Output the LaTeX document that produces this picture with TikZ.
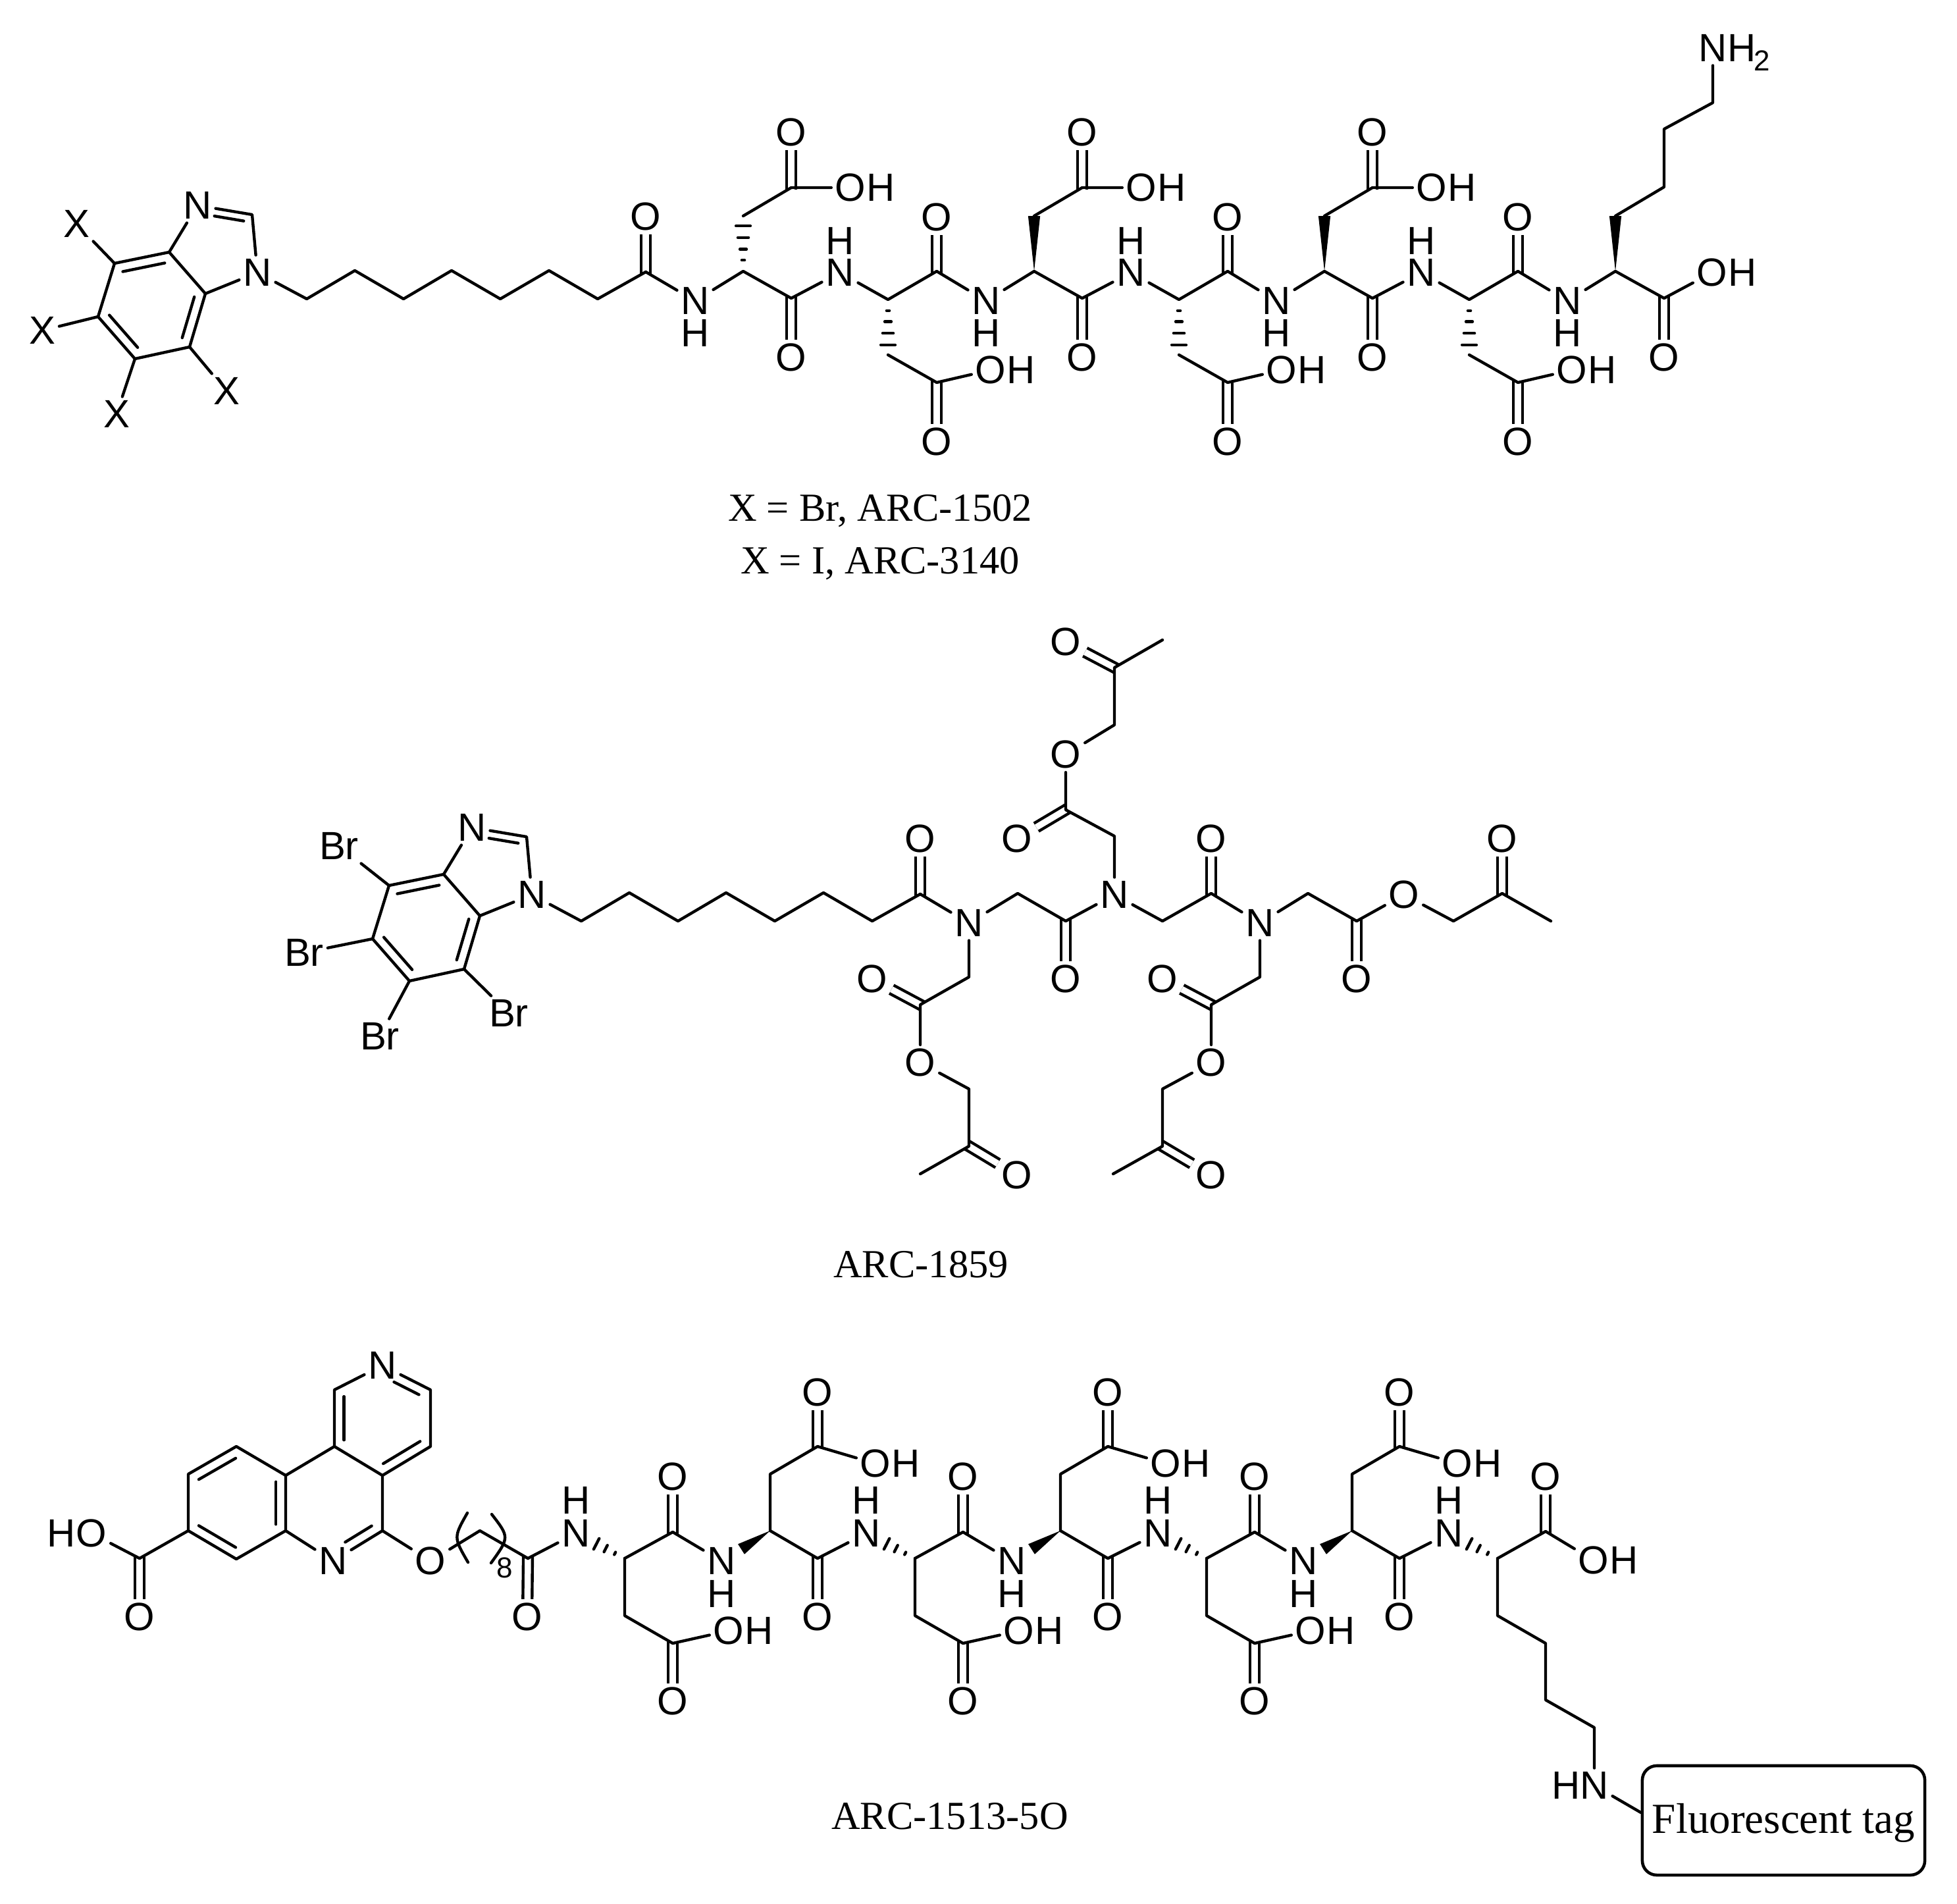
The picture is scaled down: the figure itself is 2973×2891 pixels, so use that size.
\documentclass[tikz,border=0pt]{standalone}
\usepackage{fontspec}
\setmainfont{Liberation Serif}
\newfontfamily\atomfont{Liberation Sans}
\usetikzlibrary{calc}

\tikzset{
    bond/.style={line width=1.25pt,line cap=round,line join=round},
    dbond/.style={line width=1.25pt,double,double distance=2.7pt,shorten <=-0.8pt},
    atom/.style={font=\atomfont\fontsize{17}{20}\selectfont,inner sep=0pt,outer sep=1.7pt},
    subatom/.style={font=\atomfont\fontsize{12.5}{14}\selectfont,inner sep=0pt},
    capt/.style={font=\fontsize{17.2}{20}\selectfont,inner sep=0pt}
}

\newcommand{\innerbond}[5]{\draw[bond] ($(#1)!#4!(#2)!.2!(#3)$) -- ($(#2)!#5!(#1)!.2!(#3)$);}
\newcommand{\wedgebond}[2]{\fill (#1) -- ($(#2)!2.6pt!90:(#1)$) -- ($(#2)!2.6pt!-90:(#1)$) -- cycle;}
\newcommand{\hashbond}[2]{\foreach \pos/\hw in {.2/.6,.4/1.4,.61/2.3,.82/3.1}
    {\draw[bond] ($(#1)!\pos!(#2)!\hw pt!90:(#2)$) -- ($(#1)!\pos!(#2)!\hw pt!-90:(#2)$);}}
\newcommand{\hashshort}[2]{\foreach \pos/\hw in {.2/.6,.39/1.6,.58/2.6}
    {\draw[bond] ($(#1)!\pos!(#2)!\hw pt!90:(#2)$) -- ($(#1)!\pos!(#2)!\hw pt!-90:(#2)$);}}

\begin{document}
\begin{tikzpicture}[x=0.01cm,y=-0.01cm]
    \useasboundingbox (0,0) rectangle (2973,2891);

    % head group and linker of the first two
    \foreach \m/\sx/\sy/\lab/\xa/\xb/\xc/\xd in {p/0/0/X/116/64/177/344,q/417/945/Br/98/45/160/356}{
        \begin{scope}[shift={(\sx,\sy)}]
            \coordinate (\m-a) at (174,400);
            \coordinate (\m-b) at (257,383);
            \coordinate (\m-c) at (312,446);
            \coordinate (\m-d) at (288,527);
            \coordinate (\m-e) at (205,545);
            \coordinate (\m-f) at (149,481);
            \coordinate (\m-u) at (230,464);
            \coordinate (\m-v) at (329,376);
            \coordinate (\m-g) at (383,326);
            \node[atom] (\m-n3) at (300,312) {N};
            \node[atom] (\m-n1) at (391,414) {N};
            \node[atom] (\m-x1) at (\xa,340) {\lab};
            \node[atom] (\m-x2) at (\xb,502) {\lab};
            \node[atom] (\m-x3) at (\xc,629) {\lab};
            \node[atom] (\m-x4) at (\xd,594) {\lab};
            \foreach \i/\px/\py in {1/466/454,2/539/411,3/613/454,4/686/411,5/760/454,6/834/411,7/908/454,8/981/413}
                \coordinate (\m-z\i) at (\px,\py);
            \node[atom] (\m-o) at (981,329) {O};

            \draw[bond] (\m-a) -- (\m-b) -- (\m-c) -- (\m-d) -- (\m-e) -- (\m-f) -- cycle;
            \draw[bond] (\m-b) -- (\m-n3) -- (\m-g) -- (\m-n1) -- (\m-c);
            \innerbond{\m-a}{\m-b}{\m-u}{.02}{.02}
            \innerbond{\m-c}{\m-d}{\m-u}{.02}{.02}
            \innerbond{\m-e}{\m-f}{\m-u}{.02}{.02}
            \innerbond{\m-n3}{\m-g}{\m-v}{.3}{.03}
            \draw[bond] (\m-a) -- (\m-x1);
            \draw[bond] (\m-f) -- (\m-x2);
            \draw[bond] (\m-e) -- (\m-x3);
            \draw[bond] (\m-d) -- (\m-x4);
            \draw[dbond] (\m-z8) -- (\m-o);
            \draw[bond] (\m-n1) -- (\m-z1) -- (\m-z2) -- (\m-z3) -- (\m-z4) -- (\m-z5) -- (\m-z6) -- (\m-z7) -- (\m-z8);
        \end{scope}
    }

    % ARC-1502
    \foreach \res/\px in {1/1129,2/1571,3/2012,4/2454}{
        \node[atom] (nl\res) at (\px-73,457) {N};
        \node[atom] (hl\res) at (\px-73,506) {H};
    }
    \draw[bond] (p-z8) -- (nl1);
    \foreach \res/\px/\kind [evaluate=\res as \nxt using int(\res+1)] in {1/1129/\hashbond,2/1571/\wedgebond,3/2012/\wedgebond}{
        \coordinate (ca\res) at (\px,412);
        \coordinate (cb\res) at (\px,328);
        \coordinate (cg\res) at (\px+73,285);
        \coordinate (co\res) at (\px+73,453);
        \coordinate (cl\res) at (\px+220,455);
        \coordinate (cm\res) at (\px+220,539);
        \coordinate (cn\res) at (\px+294,581);
        \coordinate (cp\res) at (\px+294,412);
        \node[atom] (ot\res) at (\px+73,201) {O};
        \node[atom] (oh\res) at (\px+163,285) {O};
        \node[atom] (hh\res) at (\px+209,285) {H};
        \node[atom] (ob\res) at (\px+73,543) {O};
        \node[atom] (nu\res) at (\px+147,414) {N};
        \node[atom] (hu\res) at (\px+147,366) {H};
        \node[atom] (ol\res) at (\px+294,671) {O};
        \node[atom] (om\res) at (\px+376,562) {O};
        \node[atom] (hm\res) at (\px+422,562) {H};
        \node[atom] (oc\res) at (\px+294,330) {O};

        \draw[dbond] (cg\res) -- (ot\res);
        \draw[dbond] (co\res) -- (ob\res);
        \draw[dbond] (cn\res) -- (ol\res);
        \draw[dbond] (cp\res) -- (oc\res);
        \draw[bond] (nl\res) -- (ca\res) -- (co\res) -- (nu\res) -- (cl\res) -- (cp\res) -- (nl\nxt);
        \draw[bond] (cb\res) -- (cg\res) -- (oh\res);
        \draw[bond] (cm\res) -- (cn\res) -- (om\res);
        \kind{ca\res}{cb\res}
        \hashbond{cl\res}{cm\res}
    }
    \coordinate (ca4) at (2454,412);
    \coordinate (cb4) at (2454,328);
    \coordinate (lys1) at (2528,284);
    \coordinate (lys2) at (2528,196);
    \coordinate (lys3) at (2602,156);
    \coordinate (co4) at (2528,453);
    \node[atom] (nh2) at (2602,73) {N};
    \node[atom] (nh2h) at (2646,73) {H};
    \node[subatom] (nh2s) at (2677,92) {2};
    \node[atom] (ob4) at (2528,543) {O};
    \node[atom] (oh4) at (2601,414) {O};
    \node[atom] (hh4) at (2647,414) {H};
    \draw[dbond] (co4) -- (ob4);
    \draw[bond] (nl4) -- (ca4) -- (co4) -- (oh4);
    \draw[bond] (cb4) -- (lys1) -- (lys2) -- (lys3) -- (nh2);
    \wedgebond{ca4}{cb4}

    \node[capt] (cap1) at (1337,776) {X = Br, ARC-1502};
    \node[capt] (cap2) at (1337,856) {X = I, ARC-3140};

    % ARC-1859
    \coordinate (t1) at (1546,1357);
    \coordinate (t2) at (1619,1399);
    \coordinate (t3) at (1766,1399);
    \coordinate (t4) at (1840,1357);
    \coordinate (t5) at (1987,1357);
    \coordinate (t6) at (2061,1399);
    \coordinate (t7) at (2208,1399);
    \coordinate (t8) at (2282,1357);
    \coordinate (t9) at (2356,1399);
    \node[atom] (na) at (1472,1402) {N};
    \node[atom] (nb) at (1693,1359) {N};
    \node[atom] (nc) at (1914,1402) {N};
    \node[atom] (o2) at (1619,1487) {O};
    \node[atom] (o4) at (1840,1274) {O};
    \node[atom] (o6) at (2061,1487) {O};
    \node[atom] (o7) at (2133,1359) {O};
    \node[atom] (o8) at (2282,1274) {O};
    \draw[dbond] (t2) -- (o2);
    \draw[dbond] (t4) -- (o4);
    \draw[dbond] (t6) -- (o6);
    \draw[dbond] (t8) -- (o8);
    \draw[bond] (q-z8) -- (na) -- (t1) -- (t2) -- (nb) -- (t3) -- (t4) -- (nc) -- (t5) -- (t6) -- (o7) -- (t7) -- (t8) -- (t9);

    \coordinate (ua1) at (1693,1270);
    \coordinate (ua2) at (1619,1230);
    \coordinate (ua3) at (1693,1101);
    \coordinate (ua4) at (1693,1014);
    \coordinate (ua5) at (1766,972);
    \node[atom] (uo1) at (1545,1274) {O};
    \node[atom] (uo2) at (1619,1146) {O};
    \node[atom] (uo3) at (1619,975) {O};
    \draw[dbond] (ua2) -- (uo1);
    \draw[dbond] (ua4) -- (uo3);
    \draw[bond] (nb) -- (ua1) -- (ua2) -- (uo2) -- (ua3) -- (ua4) -- (ua5);

    \coordinate (la1) at (1472,1484);
    \coordinate (la2) at (1398,1526);
    \coordinate (la3) at (1472,1654);
    \coordinate (la4) at (1472,1741);
    \coordinate (la5) at (1398,1783);
    \node[atom] (lo1) at (1325,1487) {O};
    \node[atom] (lo2) at (1398,1614) {O};
    \node[atom] (lo3) at (1545,1785) {O};
    \draw[dbond] (la2) -- (lo1);
    \draw[dbond] (la4) -- (lo3);
    \draw[bond] (na) -- (la1) -- (la2) -- (lo2) -- (la3) -- (la4) -- (la5);

    \coordinate (lc1) at (1914,1484);
    \coordinate (lc2) at (1840,1526);
    \coordinate (lc3) at (1766,1654);
    \coordinate (lc4) at (1766,1741);
    \coordinate (lc5) at (1691,1783);
    \node[atom] (mo1) at (1766,1487) {O};
    \node[atom] (mo2) at (1840,1614) {O};
    \node[atom] (mo3) at (1840,1785) {O};
    \draw[dbond] (lc2) -- (mo1);
    \draw[dbond] (lc4) -- (mo3);
    \draw[bond] (nc) -- (lc1) -- (lc2) -- (mo2) -- (lc3) -- (lc4) -- (lc5);

    \node[capt] (cap3) at (1399,1921) {ARC-1859};

    % ARC-1513-5O
    \coordinate (r1) at (508,2111);
    \coordinate (r3) at (654,2111);
    \coordinate (r4) at (654,2197);
    \coordinate (r5) at (581,2241);
    \coordinate (r6) at (508,2197);
    \coordinate (m3) at (434,2241);
    \coordinate (m4) at (434,2325);
    \coordinate (m6) at (581,2325);
    \coordinate (l2) at (359,2197);
    \coordinate (l3) at (286,2239);
    \coordinate (l4) at (286,2325);
    \coordinate (l5) at (359,2368);
    \coordinate (cr) at (581,2155);
    \coordinate (cm) at (508,2283);
    \coordinate (cl) at (360,2283);
    \coordinate (ac) at (212,2367);
    \coordinate (ch1) at (729,2325);
    \coordinate (ch2) at (802,2367);
    \node[atom] (nr) at (581,2074) {N};
    \node[atom] (nm) at (506,2371) {N};
    \node[atom] (oe) at (654,2371) {O};
    \node[atom] (oa) at (212,2456) {O};
    \node[atom] (hoo) at (139,2329) {O};
    \node[atom] (hoh) at (93,2329) {H};
    \node[atom] (ol) at (801,2456) {O};
    \node[subatom] (sub8) at (767,2381) {8};

    \draw[bond] (r6) -- (r1) -- (nr) -- (r3) -- (r4) -- (r5) -- (r6);
    \draw[bond] (r6) -- (m3) -- (m4) -- (nm) -- (m6) -- (r5);
    \draw[bond] (m3) -- (l2) -- (l3) -- (l4) -- (l5) -- (m4);
    \innerbond{r1}{r6}{cr}{.02}{.02}
    \innerbond{nr}{r3}{cr}{.3}{.05}
    \innerbond{r4}{r5}{cr}{.02}{.02}
    \innerbond{nm}{m6}{cm}{.3}{.03}
    \innerbond{l2}{l3}{cl}{.02}{.02}
    \innerbond{m3}{m4}{cl}{.02}{.02}
    \innerbond{l4}{l5}{cl}{.02}{.02}
    \draw[dbond] (ac) -- (oa);
    \draw[bond] (l4) -- (ac) -- (hoo);
    \draw[dbond] (ch2) -- (ol);
    \draw[bond] (m6) -- (oe) -- (ch1) -- (ch2);
    \draw[bond] (710,2298) .. controls (689,2335) .. (711,2373);
    \draw[bond] (747,2300) .. controls (774,2335) .. (746,2374);

    \foreach \res/\px in {1/949,2/1390,3/1833,4/2275}{
        \node[atom] (gn\res) at (\px-74,2329) {N};
        \node[atom] (gh\res) at (\px-74,2279) {H};
    }
    \draw[bond] (ch2) -- (gn1);
    \foreach \res/\px [evaluate=\res as \nxt using int(\res+1)] in {1/949,2/1390,3/1833}{
        \coordinate (ga\res) at (\px,2367);
        \coordinate (gb\res) at (\px,2454);
        \coordinate (gc\res) at (\px+73,2496);
        \coordinate (gd\res) at (\px+73,2327);
        \coordinate (ge\res) at (\px+221,2325);
        \coordinate (gf\res) at (\px+221,2239);
        \coordinate (gg\res) at (\px+293,2197);
        \coordinate (gj\res) at (\px+293,2367);
        \coordinate (gw\res) at ($(ge\res)+(-44,28)$);
        \node[atom] (po\res) at (\px+73,2584) {O};
        \node[atom] (pp\res) at (\px+158,2477) {O};
        \node[atom] (ph\res) at (\px+204,2477) {H};
        \node[atom] (pq\res) at (\px+73,2243) {O};
        \node[atom] (kn\res) at (\px+147,2371) {N};
        \node[atom] (kh\res) at (\px+147,2421) {H};
        \node[atom] (so\res) at (\px+293,2115) {O};
        \node[atom] (sp\res) at (\px+381,2223) {O};
        \node[atom] (sh\res) at (\px+427,2223) {H};
        \node[atom] (st\res) at (\px+293,2456) {O};

        \draw[dbond] (gc\res) -- (po\res);
        \draw[dbond] (gd\res) -- (pq\res);
        \draw[dbond] (gg\res) -- (so\res);
        \draw[dbond] (gj\res) -- (st\res);
        \draw[bond] (ga\res) -- (gd\res) -- (kn\res);
        \draw[bond] (ga\res) -- (gb\res) -- (gc\res) -- (pp\res);
        \draw[bond] (ge\res) -- (gf\res) -- (gg\res) -- (sp\res);
        \draw[bond] (ge\res) -- (gj\res) -- (gn\nxt);
        \hashshort{ga\res}{gn\res}
        \wedgebond{ge\res}{gw\res}
    }
    \coordinate (ga4) at (2275,2367);
    \coordinate (gd4) at (2348,2326);
    \coordinate (lz1) at (2275,2454);
    \coordinate (lz2) at (2348,2496);
    \coordinate (lz3) at (2348,2582);
    \coordinate (lz4) at (2422,2624);
    \node[atom] (pq4) at (2348,2243) {O};
    \node[atom] (sp4) at (2421,2370) {O};
    \node[atom] (sh4) at (2467,2370) {H};
    \node[atom] (hn) at (2422,2712) {N};
    \node[atom] (hnh) at (2379,2712) {H};
    \draw[dbond] (gd4) -- (pq4);
    \draw[bond] (ga4) -- (gd4) -- (sp4);
    \draw[bond] (ga4) -- (lz1) -- (lz2) -- (lz3) -- (lz4) -- (hn);
    \hashshort{ga4}{gn4}

    \node[draw,line width=1.3pt,rounded corners=0.22cm,minimum width=4.29cm,minimum height=1.66cm,inner sep=0pt,text height=0.52cm,text depth=0.14cm,font=\fontsize{18.5}{20}\selectfont] (tag) at (2709.5,2765) {Fluorescent tag};
    \draw[bond] (hn) -- ([yshift=0.12cm]tag.west);

    \node[capt] (cap4) at (1443,2759) {ARC-1513-5O};
\end{tikzpicture}
\end{document}
